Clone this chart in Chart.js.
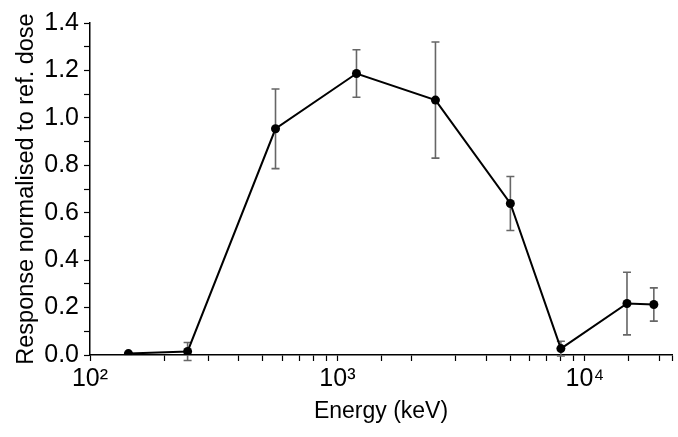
<!DOCTYPE html>
<html>
<head>
<meta charset="utf-8">
<script src="https://cdn.jsdelivr.net/npm/chart.js@4/dist/chart.umd.min.js"></script>
<style>
  html, body { margin: 0; padding: 0; background: #fff; }
  #wrap { width: 678px; height: 437px; position: relative; }
</style>
</head>
<body>
<div id="wrap"><canvas id="chart"></canvas></div>
<script>
// energy in keV and normalised response
const energies = [143, 248, 562, 1194, 2490, 5000, 8000, 14800, 19000];
const response = [0.006, 0.015, 0.954, 1.187, 1.075, 0.639, 0.027, 0.217, 0.213];
const errors   = [0.004, 0.038, 0.168, 0.100, 0.245, 0.114, 0.031, 0.132, 0.070];
const decadeLabels = { 100: "10²", 1000: "10³", 10000: "10⁴" };

// draws vertical error bars with caps, using the chart's own scales
const errorBars = {
    id: "errorBars",
    beforeDatasetsDraw(chart) {
        const ctx = chart.ctx;
        const xs = chart.scales.x, ys = chart.scales.y;
        ctx.save();
        ctx.strokeStyle = "#666";
        ctx.lineWidth = 1.6;
        energies.forEach(function (e, i) {
            const px = xs.getPixelForValue(e);
            const top = ys.getPixelForValue(response[i] + errors[i]);
            const bot = ys.getPixelForValue(response[i] - errors[i]);
            ctx.beginPath();
            ctx.moveTo(px, top); ctx.lineTo(px, bot);
            ctx.moveTo(px - 4, top); ctx.lineTo(px + 4, top);
            ctx.moveTo(px - 4, bot); ctx.lineTo(px + 4, bot);
            ctx.stroke();
        });
        ctx.restore();
    }
};

const ctx = document.getElementById("chart").getContext("2d");
new Chart(ctx, {
    type: "line",
    data: {
        datasets: [{
            data: energies.map((e, i) => ({ x: e, y: response[i] })),
            borderColor: "#000",
            backgroundColor: "#000",
            borderWidth: 2,
            pointRadius: 4.5,
            pointBackgroundColor: "#000",
            pointBorderWidth: 0,
            tension: 0,
            fill: false
        }]
    },
    options: {
        responsive: true,
        maintainAspectRatio: false,
        animation: false,
        layout: { padding: { top: 23, right: 6, left: 0, bottom: 0 } },
        plugins: {
            legend: { display: false },
            tooltip: { enabled: false }
        },
        scales: {
            x: {
                type: "logarithmic",
                min: 100,
                max: 22500,
                afterFit: function (scale) { scale.height = 82; },
                border: { display: true, color: "#000", width: 1.5 },
                grid: {
                    drawOnChartArea: false,
                    drawTicks: true,
                    tickLength: 6,
                    tickColor: "#000",
                    tickWidth: 1.2
                },
                ticks: {
                    autoSkip: false,
                    maxRotation: 0,
                    color: "#000",
                    padding: 3,
                    font: { family: "'Liberation Sans', Arial", size: 25 },
                    callback: function (v) { return decadeLabels[v] || ""; }
                },
                title: {
                    display: true,
                    text: "Energy (keV)",
                    color: "#000",
                    padding: { top: 4, bottom: 12 },
                    font: { family: "'Liberation Sans', Arial", size: 23 }
                }
            },
            y: {
                min: 0,
                max: 1.4,
                afterFit: function (scale) { scale.width = 90; },
                border: { display: true, color: "#000", width: 1.5 },
                grid: {
                    drawOnChartArea: false,
                    drawTicks: true,
                    tickLength: 6,
                    tickColor: "#000",
                    tickWidth: 1.2
                },
                ticks: {
                    stepSize: 0.1,
                    autoSkip: false,
                    color: "#000",
                    padding: 5,
                    font: { family: "'Liberation Sans', Arial", size: 25 },
                    callback: function (v) {
                        return Math.round(v * 10) % 2 === 0 ? v.toFixed(1) : "";
                    }
                },
                title: {
                    display: true,
                    text: "Response normalised to ref. dose",
                    color: "#000",
                    padding: { top: 12, bottom: 0 },
                    font: { family: "'Liberation Sans', Arial", size: 23.5 }
                }
            }
        }
    },
    plugins: [errorBars]
});
</script>
</body>
</html>
